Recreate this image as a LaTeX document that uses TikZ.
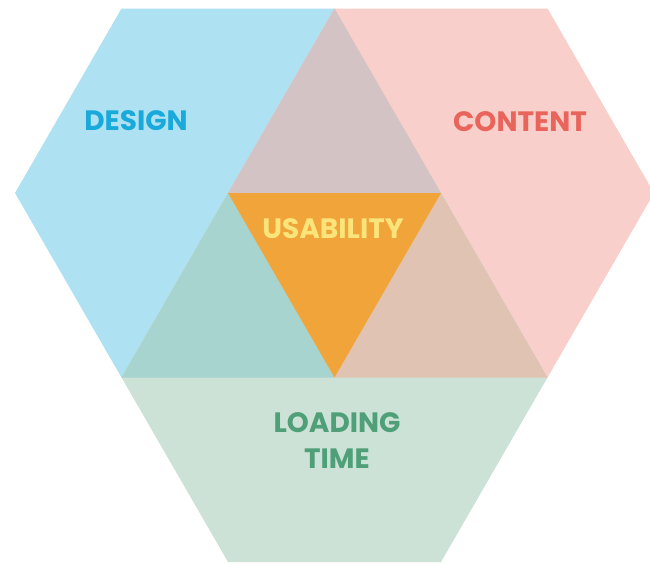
\documentclass[tikz,border=0pt]{standalone}
\usepackage{fontspec}
\setmainfont{Poppins}
\definecolor{cBlue}{HTML}{AEE1F1}
\definecolor{cPink}{HTML}{F8CFCA}
\definecolor{cGreen}{HTML}{CDE2D6}
\definecolor{cMauve}{HTML}{D3C3C5}
\definecolor{cTeal}{HTML}{A7D4CF}
\definecolor{cTan}{HTML}{E1C3B4}
\definecolor{cOrange}{HTML}{F0A43A}
\definecolor{tBlue}{HTML}{19A9DA}
\definecolor{tRed}{HTML}{E9655B}
\definecolor{tGreen}{HTML}{4FA079}
\definecolor{tYellow}{HTML}{FBE57A}
\tikzset{
  lbl/.style={font=\bfseries\fontsize{28}{32}\selectfont, inner sep=0pt, align=center},
}
\begin{document}
\begin{tikzpicture}[x=1pt,y=-1pt]
\useasboundingbox (0,0) rectangle (650,563);
\clip (0,0) rectangle (650,563);
% vertices
\coordinate (A) at (121.5,8.5);   % design top-left
\coordinate (B) at (334.5,8.5);   % shared top
\coordinate (C) at (547.5,8.5);   % content top-right
\coordinate (L) at (15,193);      % design left
\coordinate (P) at (228,193);
\coordinate (Q) at (441,193);
\coordinate (R) at (654,193);     % content right
\coordinate (U) at (121.5,377.5);
\coordinate (V) at (334.5,377.5);
\coordinate (W) at (547.5,377.5);
\coordinate (X) at (228,562);
\coordinate (Y) at (441,562);
% hexagons
\fill[cBlue] (A) -- (B) -- (Q) -- (V) -- (U) -- (L) -- cycle;
\fill[cPink] (B) -- (C) -- (R) -- (W) -- (V) -- (P) -- cycle;
\fill[cGreen] (P) -- (Q) -- (W) -- (Y) -- (X) -- (U) -- cycle;
% overlaps
\fill[cMauve] (B) -- (Q) -- (P) -- cycle;
\fill[cTeal] (P) -- (V) -- (U) -- cycle;
\fill[cTan] (Q) -- (W) -- (V) -- cycle;
\fill[cOrange] (P) -- (Q) -- (V) -- cycle;
% labels
\node[lbl, text=tBlue] (design) at (136,121) {DESIGN};
\node[lbl, text=tRed] (content) at (520,122) {CONTENT};
\node[lbl, text=tYellow] (usability) at (333,229) {USABILITY};
\node[lbl, text=tGreen] (loading) at (337,423) {LOADING};
\node[lbl, text=tGreen] (time) at (337,459) {TIME};
\end{tikzpicture}
\end{document}
